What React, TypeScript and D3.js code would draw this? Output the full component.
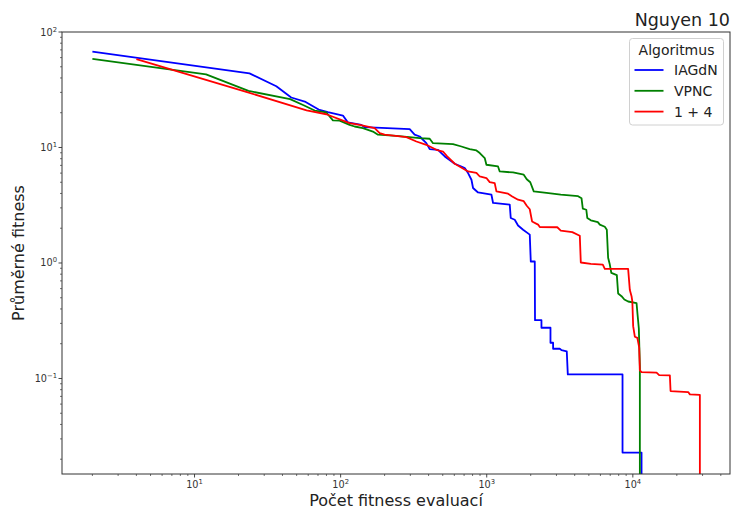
import React from "react";
import * as d3 from "d3";

const W = 731;
const H = 510;
const PL = 62, PR = 730, PT = 32, PB = 474;

const iagdnEvals = [2, 23.8, 36.3, 45.9, 57.6, 70.7, 81.8, 103.7, 112, 138.6, 146, 297, 321, 348, 386, 407, 464, 489, 516, 604, 671, 707, 745, 786, 806, 872, 1077, 1105, 1437, 1460, 1555, 1638, 1774, 1970, 2002, 2132, 2140, 2369, 2369, 2731, 2731, 2846, 2846, 3162, 3248, 3530, 3588, 8500, 8500, 11470, 11470];
const iagdnFitness = [67.6, 43.8, 33.9, 27.1, 24.8, 21.3, 20.2, 18.9, 16.5, 15.7, 15.0, 14.4, 12.9, 12.45, 10.9, 9.69, 9.55, 8.95, 8.36, 7.23, 6.85, 6.64, 6.01, 5.26, 4.46, 4.08, 3.9, 3.31, 3.2, 2.45, 2.37, 2.11, 1.94, 1.76, 1.03, 1.03, 0.32, 0.32, 0.275, 0.275, 0.204, 0.204, 0.181, 0.181, 0.176, 0.172, 0.1085, 0.1085, 0.02284, 0.02284, 0];

const vpncEvals = [2, 12.0, 23.4, 45.1, 55.8, 66.4, 79.8, 88.6, 98.4, 115.2, 124.7, 142.1, 166.4, 180.1, 240.7, 348, 407, 429, 588, 671, 764, 850, 896, 969, 995, 1195, 1227, 1514, 1792, 1879, 1986, 2098, 2564, 3212, 4221, 4453, 4545, 4803, 4880, 5157, 5759, 5943, 6430, 6636, 6773, 6958, 7124, 7770, 7931, 8366, 8747, 9285, 10600, 10770, 10990, 11170, 11170];
const vpncFitness = [58.4, 42.9, 30.9, 26.2, 23.2, 20.9, 20.1, 17.2, 17.1, 15.7, 15.2, 14.7, 13.75, 12.9, 12.6, 12.05, 11.9, 10.9, 10.7, 10.2, 9.69, 9.42, 8.95, 8.1, 7.09, 6.85, 6.2, 6.08, 5.81, 5.31, 5.0, 4.17, 4.04, 3.9, 3.79, 3.64, 2.95, 2.89, 2.45, 2.34, 2.26, 2.15, 2.06, 1.94, 1.11, 0.969, 0.821, 0.786, 0.544, 0.516, 0.483, 0.464, 0.45, 0.358, 0.271, 0.128, 0];

const plus4Evals = [4, 22.6, 58.5, 79.8, 115.2, 134.9, 171, 185, 200, 282, 330, 386, 452, 502, 536, 604, 745, 850, 896, 995, 1048, 1134, 1165, 1399, 1495, 1638, 1792, 1879, 1970, 2043, 2246, 2307, 3040, 3212, 3851, 4335, 4404, 5157, 6229, 6430, 9285, 9539, 9797, 9922, 10050, 10320, 10735, 11050, 11170, 11470, 14530, 15140, 17920, 18120, 23920, 24570, 28760, 28760];
const plus4Fitness = [58.1, 30.3, 21.0, 19.4, 16.25, 15.7, 14.7, 13.3, 12.9, 12.3, 11.27, 10.55, 9.55, 9.23, 8.39, 7.23, 6.2, 6.04, 5.61, 5.44, 5.02, 4.92, 4.17, 3.98, 3.77, 3.53, 3.43, 3.13, 2.92, 2.29, 2.15, 2.05, 2.04, 1.91, 1.85, 1.72, 1.01, 0.984, 0.969, 0.889, 0.889, 0.583, 0.516, 0.464, 0.284, 0.23, 0.225, 0.186, 0.1175, 0.1136, 0.1124, 0.107, 0.1066, 0.0778, 0.0763, 0.0729, 0.0721, 0];

const seriesNames = ["IAGdN", "VPNC", "1 + 4"];
const seriesColors = ["#0000ff", "#008000", "#ff0000"];
const seriesEvals = [iagdnEvals, vpncEvals, plus4Evals];
const seriesFitness = [iagdnFitness, vpncFitness, plus4Fitness];

const xMajor = [10, 100, 1000, 10000];
const xMajorExp = ["1", "2", "3", "4"];
const yMajor = [0.1, 1, 10, 100];
const yMajorExp = ["\u22121", "0", "1", "2"];

const title = "Nguyen 10";
const xTitle = "Počet fitness evaluací";
const yTitle = "Průměrné fitness";
const legendTitle = "Algoritmus";

const FONT = "DejaVu Sans, sans-serif";

export default function App() {
  const x = d3.scaleLog().domain([Math.pow(10, 0.093), Math.pow(10, 4.665)]).range([PL, PR]);
  const y = d3.scaleLog().domain([Math.pow(10, -1.827), 100]).range([PB, PT]);
  const [xd0, xd1] = x.domain();
  const [yd0, yd1] = y.domain();

  const minor = (d0: number, d1: number, majors: number[]) => {
    const out: number[] = [];
    for (let e = Math.floor(Math.log10(d0)) - 1; e <= Math.ceil(Math.log10(d1)); e++) {
      for (let m = 2; m <= 9; m++) {
        const v = m * Math.pow(10, e);
        if (v >= d0 && v <= d1 && !majors.includes(v)) out.push(v);
      }
    }
    return out;
  };
  const xMinor = minor(xd0, xd1, xMajor);
  const yMinor = minor(yd0, yd1, yMajor);

  const line = d3
    .line<[number, number]>()
    .x((d) => x(d[0]))
    .y((d) => (d[1] > 0 ? y(d[1]) : PB + 30));

  const axisColor = "#333";

  return (
    <svg
      width={W}
      height={H}
      style={{ position: "fixed", left: 0, top: 0, background: "#fff" }}
      fontFamily={FONT}
    >
      <defs>
        <clipPath id="plotClip">
          <rect x={PL} y={PT} width={PR - PL} height={PB - PT} />
        </clipPath>
      </defs>
      <rect x={0} y={0} width={W} height={H} fill="#fff" />

      <g clipPath="url(#plotClip)">
        {seriesNames.map((name, i) => {
          const pts: [number, number][] = seriesEvals[i].map((e, j) => [e, seriesFitness[i][j]]);
          return (
            <path
              key={name}
              d={line(pts) || ""}
              fill="none"
              stroke={seriesColors[i]}
              strokeWidth={1.8}
              strokeLinejoin="round"
            />
          );
        })}
      </g>

      {/* spines */}
      <rect x={PL} y={PT} width={PR - PL} height={PB - PT} fill="none" stroke={axisColor} strokeWidth={1} />

      {/* x ticks */}
      {xMajor.map((v, i) => (
        <g key={"xM" + v}>
          <line x1={x(v)} x2={x(v)} y1={PB} y2={PB + 3.5} stroke={axisColor} strokeWidth={0.9} />
          <text x={x(v)} y={PB + 14} textAnchor="middle" fontSize={9.7} fill="#333">
            10
            <tspan dy={-4} fontSize={6.8}>{xMajorExp[i]}</tspan>
          </text>
        </g>
      ))}
      {xMinor.map((v) => (
        <line key={"xm" + v} x1={x(v)} x2={x(v)} y1={PB} y2={PB + 2} stroke={axisColor} strokeWidth={0.7} />
      ))}

      {/* y ticks */}
      {yMajor.map((v, i) => (
        <g key={"yM" + v}>
          <line x1={PL - 3.5} x2={PL} y1={y(v)} y2={y(v)} stroke={axisColor} strokeWidth={0.9} />
          <text x={PL - 5} y={y(v) + 3.5} textAnchor="end" fontSize={9.7} fill="#333">
            10
            <tspan dy={-4} fontSize={6.8}>{yMajorExp[i]}</tspan>
          </text>
        </g>
      ))}
      {yMinor.map((v) => (
        <line key={"ym" + v} x1={PL - 2} x2={PL} y1={y(v)} y2={y(v)} stroke={axisColor} strokeWidth={0.7} />
      ))}

      {/* axis titles */}
      <text x={(PL + PR) / 2} y={506} textAnchor="middle" fontSize={16} fill="#222">
        {xTitle}
      </text>
      <text
        transform={`translate(24, ${(PT + PB) / 2}) rotate(-90)`}
        textAnchor="middle"
        fontSize={16}
        fill="#222"
      >
        {yTitle}
      </text>

      {/* title */}
      <text x={PR} y={26} textAnchor="end" fontSize={17.5} fill="#222">
        {title}
      </text>

      {/* legend */}
      <g>
        <rect x={629.5} y={38.5} width={94} height={86.5} rx={3} fill="#fff" fillOpacity={0.8} stroke="#d0d0d0" strokeWidth={1} />
        <text x={676.5} y={55} textAnchor="middle" fontSize={14} fill="#222">
          {legendTitle}
        </text>
        {seriesNames.map((name, i) => {
          const ly = 70 + i * 20.8;
          return (
            <g key={"lg" + name}>
              <line x1={634.5} x2={663.5} y1={ly} y2={ly} stroke={seriesColors[i]} strokeWidth={1.8} />
              <text x={674} y={ly + 5} fontSize={14} fill="#222">
                {name}
              </text>
            </g>
          );
        })}
      </g>
    </svg>
  );
}
